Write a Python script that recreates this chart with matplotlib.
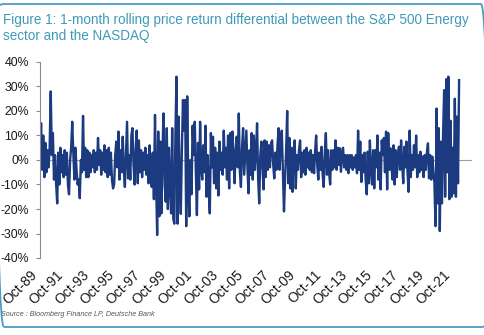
import numpy as np
import pandas as pd
import matplotlib
matplotlib.use("Agg")
import matplotlib.pyplot as plt
from matplotlib.patches import FancyBboxPatch
from matplotlib.transforms import IdentityTransform

plt.rcParams['font.family'] = ['Liberation Sans', 'DejaVu Sans']

# ---- data (monthly, % differential) ----
start_month = '1989-10-01'
values_pct = [
    2, 15, -4, 10, -7, 7, -5, 4, -3, 5, 28, 2,
    11, -8, 2, -10, -17.7, 3, -10, 5, -5, 2, -7, 4,
    -6, 3, -10, -14, 0, 5, 15.6, 3, -8, 5, -4, -10,
    -8, -15.6, 0, -5, 18, -4, 5, -7, 4, -7, 3, -5,
    2, -3, 4, -5, 3, -4, 9, -2, 4, -6, 3, -4,
    6, -5, 4, -7, 5, -6, 3, -8, -11.6, -10, 2, 7.5,
    -3, 11.6, -8, 4, -5, 9.5, -4, -11, 3, 15.6, -7.5, 2,
    -8, 10, 13, -2, -10, 4, 12, -9.5, 8, -5, 4, -7,
    3, -4, 5, -6, 2, -9.5, 6, -5, -11, 3, -16, 18.4,
    -8, -30.6, 11.6, -23, 7.5, -21.8, 4, 19, -10, -17, 13, -20,
    5, -10, -21.8, 13, -24, -26, 10, 34, -26, 17.7, -10, -22,
    4, 24.5, 12, 24.5, -27, 26, -10, -23, 0, -14, 14, 2,
    15.6, -5, -22.5, 7, -12, 15.6, -3, -8, 6, -5, 14, -15,
    2, -12, -21.8, 11, -3, 9.5, -9.5, 5, -11.6, 3, -14.5, 7.5,
    -4, 3, -6, 12, -3, 5, -8, 10, -11.6, 11, -4, 11.6,
    2, -9.5, 4, 9.5, -3, 19, -5, -11, 5, 13, -6, 3,
    12, -3, -13.6, 4, -6, 11, -8, 10, -4, 3, 15, -8,
    -17.7, 2, 7.5, -3, -12, 8, -7, 7.5, -4, 6, -3, 7,
    8, -2, -7.5, 3, -4, 6, 13, -4, 8, 12, -5, -21,
    -8, 4, 20, -9.5, 9, -11.6, 5, -13, 3, 8, -11.6, 2,
    -4, 4, 8, -7, 3, -5, 4, -6, 5, -3, 3, -4,
    4, -5, 2, -5.4, 4, 10, -2, -8, 3, -4, 5.4, -6,
    -11, 3, 11, -6, 4, -5, -10, 4, -4, 4, -3, 8,
    -4, 5, -2, 4.8, -4.8, 3, 5, -3, 2, -4, 2, -5.4,
    2, -3, 2, -4, 1, -3, 2, -5.4, 12, -4, 7.5, -9,
    2, -5, 3, -8, -14, 3.4, -9.5, 8, -4, -10, 4, -11.6,
    4, -3, 10, -8, 3, -12, 8, 2, 9, -5, 11.6, -12,
    11, -4, 4.8, -3, -8, 6, -10, 4, -7, 2, 5.4, -4,
    8, -2, -9.5, 5.4, -3, 7.5, -5, -13, 12, -7, 2, -4,
    6, -3, 10, -7, 2, -5, 3.4, -4, 1.4, -7, 2, -4,
    3, 6.8, -7.5, 2, -8, 1.4, -5, -9, -27, 21, -17.7, 13,
    -29, 7.5, -17.7, 10, 28.5, -15, 33, -5, 34, -16, 16, -15,
    5, -13.6, 25, -15, 17.7, -9.5, 32.6,
]
tick_years = list(range(1989, 2022, 2))
tick_labels = ['Oct-89', 'Oct-91', 'Oct-93', 'Oct-95', 'Oct-97', 'Oct-99',
               'Oct-01', 'Oct-03', 'Oct-05', 'Oct-07', 'Oct-09', 'Oct-11',
               'Oct-13', 'Oct-15', 'Oct-17', 'Oct-19', 'Oct-21']
y_ticks = [-40, -30, -20, -10, 0, 10, 20, 30, 40]
y_tick_labels = ['-40%', '-30%', '-20%', '-10%', '0%', '10%', '20%', '30%', '40%']

title = ('Figure 1: 1-month rolling price return differential between the S&P 500 Energy\n'
         'sector and the NASDAQ')
source = 'Source : Bloomberg Finance LP, Deutsche Bank'

dates = pd.date_range(start_month, periods=len(values_pct), freq='MS')

W, H = 485, 335
fig = plt.figure(figsize=(W / 100, H / 100), dpi=100)
fig.patch.set_facecolor('white')

ax = fig.add_axes([40 / W, 77 / H, 432 / W, 196 / H])
ax.axhline(0, color='#a0a0a0', lw=0.8, zorder=1)
ax.plot(dates, values_pct, color='#1B3A80', lw=1.7, zorder=2)

ax.set_xlim(pd.Timestamp('1989-10-01'), pd.Timestamp('2023-04-01'))
ax.set_ylim(-40, 40)
ax.set_yticks(y_ticks)
ax.set_yticklabels(y_tick_labels)
ax.set_xticks([pd.Timestamp(f'{y}-10-01') for y in tick_years])
ax.set_xticklabels(tick_labels, rotation=45, ha='right', va='top')

for s in ['top', 'right', 'bottom']:
    ax.spines[s].set_visible(False)
ax.spines['left'].set_color('#8c8c8c')
ax.spines['left'].set_linewidth(0.8)
ax.tick_params(axis='y', direction='out', length=3, width=0.8, color='#8c8c8c',
               pad=5, labelsize=8.8, labelcolor='#1a1a1a')
ax.tick_params(axis='x', length=0, pad=7, labelsize=10, labelcolor='#1a1a1a')

fig.text(3 / W, 1 - 13 / H, title, ha='left', va='top', fontsize=9.75,
         color='#3F9AB8', linespacing=1.2)
fig.text(1 / W, 1 - 315 / H, source, ha='left', va='center', fontsize=5.1,
         style='italic', color='#555555')

box = FancyBboxPatch((-3, H - 327), W + 6, 323,
                     boxstyle='round,pad=0,rounding_size=7',
                     transform=IdentityTransform(), fill=False,
                     edgecolor='#4A9CC4', linewidth=1.3)
fig.patches.append(box)

fig.savefig('out.png', dpi=100)
